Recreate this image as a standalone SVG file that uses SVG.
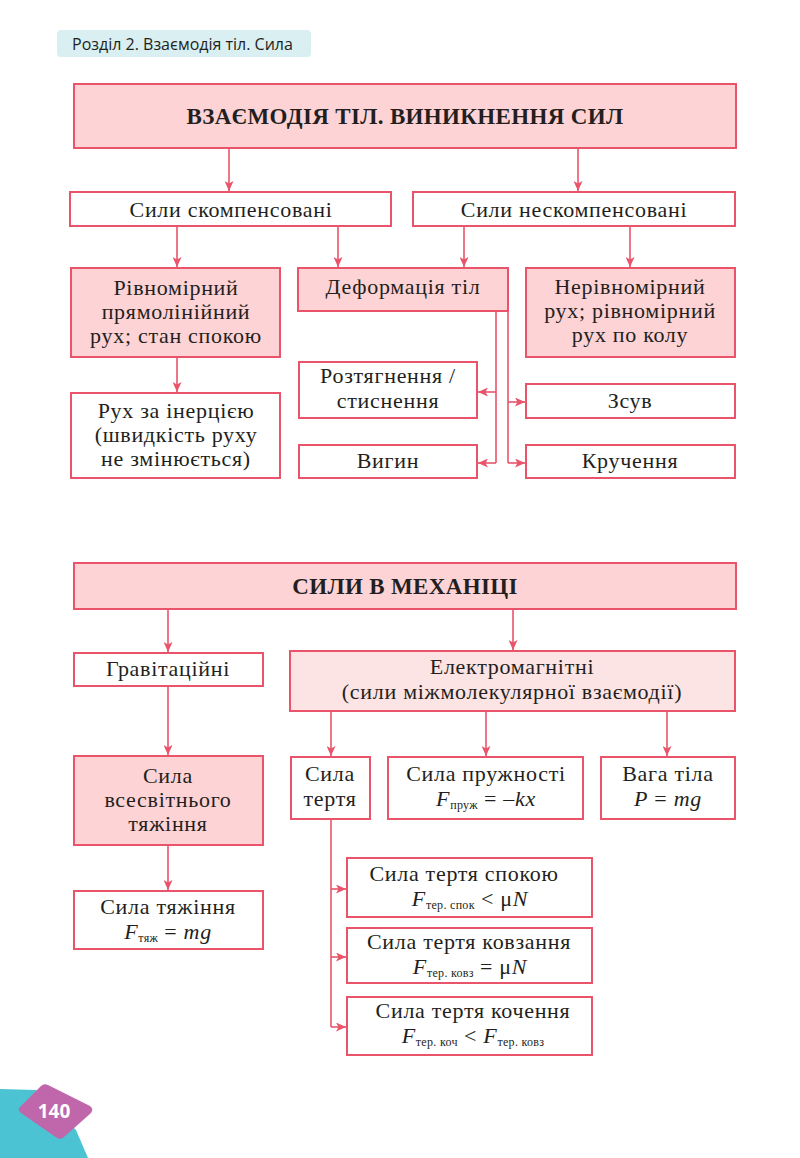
<svg xmlns="http://www.w3.org/2000/svg" width="800" height="1158" viewBox="0 0 800 1158">
<style>
.box{stroke:#e9546b;stroke-width:2;fill:#ffffff}
.pink{fill:#fdd3d5}
.lpink{fill:#fde4e4}
.t{font-family:"Liberation Serif","Times New Roman",serif;font-size:22px;fill:#231f20;text-anchor:middle;letter-spacing:0.7px}
.b{font-weight:bold;font-size:23px;letter-spacing:0.35px}
.i{font-style:italic}
.s{font-size:12px;font-style:normal;letter-spacing:0.3px}
.c{stroke:#e9546b;stroke-width:1.6;fill:none}
</style>
<defs>
<marker id="ah" markerUnits="userSpaceOnUse" markerWidth="11" markerHeight="9" refX="10" refY="4.5" orient="auto">
<path d="M0,0 L10,4.5 L0,9 L2.5,4.5 Z" fill="#e9546b"/>
</marker>
</defs>
<rect width="800" height="1158" fill="#ffffff"/>
<g id="header">
<rect x="57" y="30" width="254" height="27" rx="4" fill="#d9eff1"/>
<text x="72" y="49.5" font-family="'Open Sans','Noto Sans',sans-serif" font-size="16" fill="#231f20">Розділ 2. Взаємодія тіл. Сила</text>
</g>
<g id="connectors">
<path class="c" marker-end="url(#ah)" d="M229 148 V191"/>
<path class="c" marker-end="url(#ah)" d="M578 148 V191"/>
<path class="c" marker-end="url(#ah)" d="M177 226 V267"/>
<path class="c" marker-end="url(#ah)" d="M338 226 V267"/>
<path class="c" marker-end="url(#ah)" d="M464 226 V267"/>
<path class="c" marker-end="url(#ah)" d="M630 226 V267"/>
<path class="c" marker-end="url(#ah)" d="M177 357 V392"/>
<path class="c" d="M496 311 V463"/>
<path class="c" marker-end="url(#ah)" d="M496 392 H478"/>
<path class="c" marker-end="url(#ah)" d="M496 463 H478"/>
<path class="c" d="M508 311 V463"/>
<path class="c" marker-end="url(#ah)" d="M508 402 H525"/>
<path class="c" marker-end="url(#ah)" d="M508 463 H525"/>
<path class="c" marker-end="url(#ah)" d="M168 609 V652"/>
<path class="c" marker-end="url(#ah)" d="M513 609 V650"/>
<path class="c" marker-end="url(#ah)" d="M168 686 V755"/>
<path class="c" marker-end="url(#ah)" d="M168 845 V890"/>
<path class="c" marker-end="url(#ah)" d="M331 711 V756"/>
<path class="c" marker-end="url(#ah)" d="M486 711 V756"/>
<path class="c" marker-end="url(#ah)" d="M667 711 V756"/>
<path class="c" d="M331 819 V1027"/>
<path class="c" marker-end="url(#ah)" d="M331 889 H346"/>
<path class="c" marker-end="url(#ah)" d="M331 957 H346"/>
<path class="c" marker-end="url(#ah)" d="M331 1027 H346"/>
</g>
<g id="title1">
<rect class="box pink" x="74" y="84" width="662" height="64"/>
<text class="t b" x="405" y="124">ВЗАЄМОДІЯ ТІЛ. ВИНИКНЕННЯ СИЛ</text>
</g>
<g id="compensated">
<rect class="box" x="70" y="192" width="321" height="34"/>
<text class="t" x="231" y="217">Сили скомпенсовані</text>
</g>
<g id="uncompensated">
<rect class="box" x="413" y="192" width="322" height="34"/>
<text class="t" x="574" y="217">Сили нескомпенсовані</text>
</g>
<g id="uniform">
<rect class="box pink" x="71" y="268" width="209" height="89"/>
<text class="t" x="176" y="295">Рівномірний</text>
<text class="t" x="176" y="319">прямолінійний</text>
<text class="t" x="176" y="343">рух; стан спокою</text>
</g>
<g id="deformation">
<rect class="box pink" x="298" y="268" width="210" height="43"/>
<text class="t" x="403" y="294">Деформація тіл</text>
</g>
<g id="nonuniform">
<rect class="box pink" x="526" y="268" width="209" height="89"/>
<text class="t" x="630" y="294">Нерівномірний</text>
<text class="t" x="630" y="318">рух; рівномірний</text>
<text class="t" x="630" y="342">рух по колу</text>
</g>
<g id="inertia">
<rect class="box" x="71" y="393" width="209" height="85"/>
<text class="t" x="176" y="418">Рух за інерцією</text>
<text class="t" x="176" y="442">(швидкість руху</text>
<text class="t" x="176" y="466">не змінюється)</text>
</g>
<g id="tension">
<rect class="box" x="299" y="362" width="178" height="56"/>
<text class="t" x="388" y="383">Розтягнення /</text>
<text class="t" x="388" y="408">стиснення</text>
</g>
<g id="bending">
<rect class="box" x="299" y="445" width="178" height="33"/>
<text class="t" x="388" y="468">Вигин</text>
</g>
<g id="shear">
<rect class="box" x="526" y="384" width="209" height="34"/>
<text class="t" x="630" y="408">Зсув</text>
</g>
<g id="torsion">
<rect class="box" x="526" y="445" width="209" height="33"/>
<text class="t" x="630" y="468">Кручення</text>
</g>
<g id="title2">
<rect class="box pink" x="74" y="563" width="662" height="46"/>
<text class="t b" x="405" y="594">СИЛИ В МЕХАНІЦІ</text>
</g>
<g id="gravitational">
<rect class="box" x="74" y="653" width="189" height="33"/>
<text class="t" x="168" y="676">Гравітаційні</text>
</g>
<g id="electromagnetic">
<rect class="box lpink" x="290" y="651" width="445" height="60"/>
<text class="t" x="512" y="674">Електромагнітні</text>
<text class="t" x="512" y="699">(сили міжмолекулярної взаємодії)</text>
</g>
<g id="universal">
<rect class="box pink" x="74" y="756" width="189" height="89"/>
<text class="t" x="168" y="783">Сила</text>
<text class="t" x="168" y="807">всесвітнього</text>
<text class="t" x="168" y="831">тяжіння</text>
</g>
<g id="gravity">
<rect class="box" x="74" y="891" width="189" height="58"/>
<text class="t" x="168" y="914">Сила тяжіння</text>
<text class="t" x="168" y="939"><tspan class="i">F</tspan><tspan class="s" dy="3">тяж</tspan><tspan dy="-3"> = </tspan><tspan class="i">mg</tspan></text>
</g>
<g id="friction">
<rect class="box" x="291" y="757" width="79" height="62"/>
<text class="t" x="330" y="781">Сила</text>
<text class="t" x="330" y="806">тертя</text>
</g>
<g id="elastic">
<rect class="box" x="388" y="757" width="195" height="62"/>
<text class="t" x="486" y="781">Сила пружності</text>
<text class="t" x="486" y="806"><tspan class="i">F</tspan><tspan class="s" dy="3">пруж</tspan><tspan dy="-3"> = –</tspan><tspan class="i">kx</tspan></text>
</g>
<g id="weight">
<rect class="box" x="601" y="757" width="134" height="62"/>
<text class="t" x="668" y="781">Вага тіла</text>
<text class="t" x="668" y="806"><tspan class="i">P</tspan> = <tspan class="i">mg</tspan></text>
</g>
<g id="static">
<rect class="box" x="347" y="858" width="245" height="59"/>
<text class="t" x="464" y="881">Сила тертя спокою</text>
<text class="t" x="470" y="906"><tspan class="i">F</tspan><tspan class="s" dy="3">тер. спок</tspan><tspan dy="-3"> &lt; μ</tspan><tspan class="i">N</tspan></text>
</g>
<g id="sliding">
<rect class="box" x="347" y="928" width="245" height="55"/>
<text class="t" x="469" y="949">Сила тертя ковзання</text>
<text class="t" x="470" y="974"><tspan class="i">F</tspan><tspan class="s" dy="3">тер. ковз</tspan><tspan dy="-3"> = μ</tspan><tspan class="i">N</tspan></text>
</g>
<g id="rolling">
<rect class="box" x="347" y="997" width="245" height="58"/>
<text class="t" x="473" y="1018">Сила тертя кочення</text>
<text class="t" x="473" y="1043"><tspan class="i">F</tspan><tspan class="s" dy="3">тер. коч</tspan><tspan dy="-3"> &lt; </tspan><tspan class="i">F</tspan><tspan class="s" dy="3">тер. ковз</tspan></text>
</g>
<g id="page">
<path d="M0 1089 L36 1090 L76 1130 L88 1158 L0 1158 Z" fill="#4cc3d3"/>
<path d="M41 1086 Q44 1083 48 1085 L90 1106 Q94 1109 91 1113 L64 1137 Q61 1140 57 1138 L21 1113 Q17 1110 20 1107 Z" fill="#c066aa"/>
<text x="54" y="1118" font-family="'Open Sans','Noto Sans',sans-serif" font-weight="bold" font-size="19" fill="#ffffff" text-anchor="middle">140</text>
</g>
</svg>
